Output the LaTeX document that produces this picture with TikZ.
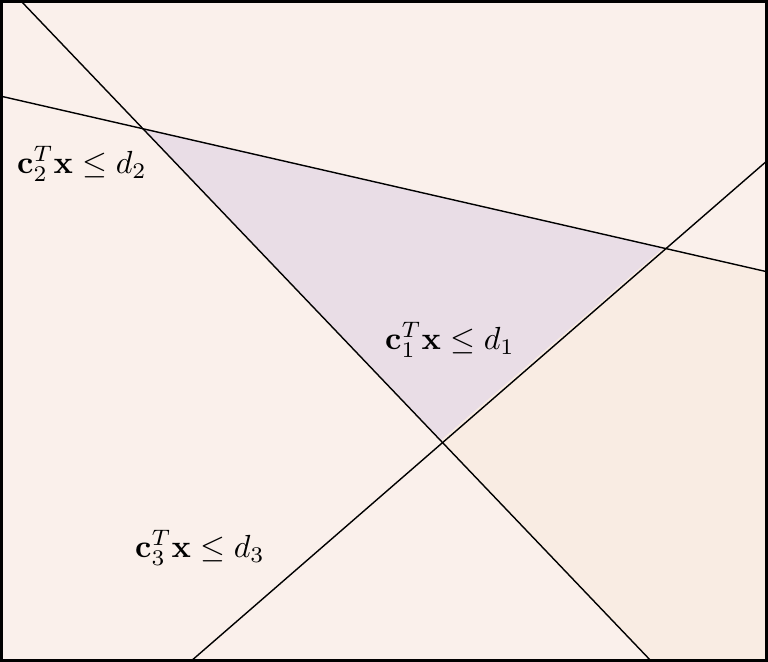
\documentclass[tikz,border=0pt]{standalone}
\usepackage{amsmath}
\definecolor{paper}{HTML}{FAF0EB}
\definecolor{sidecut}{HTML}{F9ECE3}
\definecolor{feasible}{HTML}{E9DDE6}
\begin{document}
\begin{tikzpicture}[
            x=1cm, y=1cm,
            bound/.style={draw=black,thin},
            lbl/.style={inner sep=1pt,scale=0.91},
            frame/.style={draw=black,line width=0.9pt}
        ]

        \useasboundingbox (0,0) rectangle (7.68,6.62);
        \fill[paper] (0,0) rectangle (7.68,6.62);

        % end points of the three lines, in px/100 with y flipped
        \coordinate (l1a) at (0.20,6.62);
        \coordinate (l1b) at (6.52,0.00);
        \coordinate (l2a) at (0.00,5.66);
        \coordinate (l2b) at (7.68,3.90);
        \coordinate (l3a) at (1.90,0.00);
        \coordinate (l3b) at (7.68,5.02);

        % corners of the feasible set
        \coordinate (A) at (1.43,5.34);
        \coordinate (B) at (6.63,4.14);
        \coordinate (C) at (4.41,2.22);

        \fill[sidecut] (C) -- (B) -- (l2b) -- (7.68,0) -- (l1b) -- cycle;
        \fill[feasible] (A) -- (B) -- (C) -- cycle;

        \draw[bound] (l1a) -- (l1b);
        \draw[bound] (l2a) -- (l2b);
        \draw[bound] (l3a) -- (l3b);

        \node[lbl] (h1) at (4.50,3.22) {$\mathbf{c}_1^T\mathbf{x} \leq d_1$};
        \node[lbl] (h2) at (0.82,4.98) {$\mathbf{c}_2^T\mathbf{x} \leq d_2$};
        \node[lbl] (h3) at (2.00,1.14) {$\mathbf{c}_3^T\mathbf{x} \leq d_3$};

        \draw[frame] (0.015,0.015) rectangle (7.665,6.605);

\end{tikzpicture}
\end{document}
